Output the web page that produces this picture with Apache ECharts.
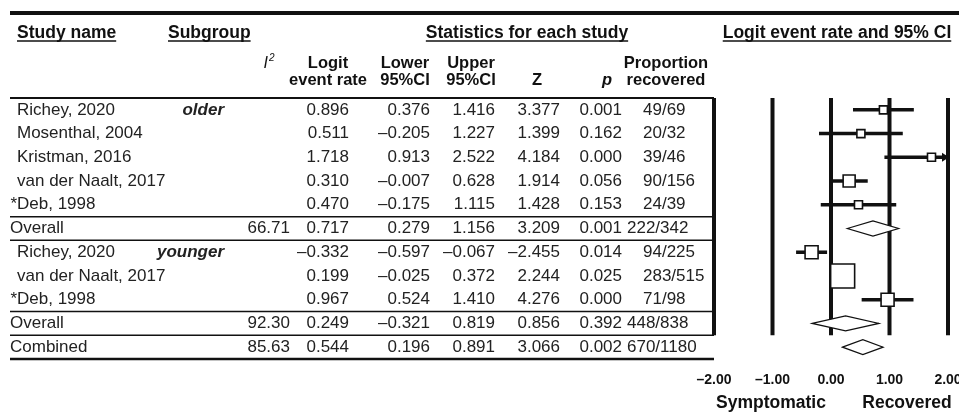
<!DOCTYPE html>
<html><head><meta charset="utf-8">
<script src="https://cdn.jsdelivr.net/npm/echarts@6/dist/echarts.min.js"></script>
<style>html,body{margin:0;padding:0;background:#fff}#c{width:959px;height:412px}</style>
</head><body><div id="c"></div>
<script>
// ---------- data ----------
const studyNames = ['Richey, 2020','Mosenthal, 2004','Kristman, 2016','van der Naalt, 2017','*Deb, 1998','Overall','Richey, 2020','van der Naalt, 2017','*Deb, 1998','Overall','Combined'];
const subgroups = ['older','','','','','','younger','','','',''];
const rowKinds = ['study','study','study','study','study','summary','study','study','study','summary','summary'];
const iSquared = ['','','','','','66.71','','','','92.30','85.63'];
const logitRate = [0.896,0.511,1.718,0.310,0.470,0.717,-0.332,0.199,0.967,0.249,0.544];
const lowerCI = [0.376,-0.205,0.913,-0.007,-0.175,0.279,-0.597,-0.025,0.524,-0.321,0.196];
const upperCI = [1.416,1.227,2.522,0.628,1.115,1.156,-0.067,0.372,1.410,0.819,0.891];
const zValues = [3.377,1.399,4.184,1.914,1.428,3.209,-2.455,2.244,4.276,0.856,3.066];
const pValues = [0.001,0.162,0.000,0.056,0.153,0.001,0.014,0.025,0.000,0.392,0.002];
const proportions = ['49/69','20/32','39/46','90/156','24/39','222/342','94/225','283/515','71/98','448/838','670/1180'];
const axisTicks = [-2,-1,0,1,2];
const axisCaptions = ['Symptomatic','Recovered'];

// ---------- style ----------
const boxPx = [8,8,8,12,8,0,13,24,13,0,0];
const FONT = '"Liberation Sans", Arial, Helvetica, sans-serif';
const INK = '#111';
const BODY = '#222';
const ROW_FONT = '17px ' + FONT;
const HEAD_FONT = 'bold 17.5px ' + FONT;
const HEAD2_FONT = 'bold 16.5px ' + FONT;
const GRID_TOP = 98, GRID_H = 261, TABLE_LEFT = 10, PLOT_LEFT = 714, PLOT_W = 234;
const NROWS = studyNames.length;
const lastSubgroupRow = rowKinds.lastIndexOf('summary') - 1;

const dash = v => (v < 0 ? '\u2013' : '') + Math.abs(v).toFixed(3);
const mctx = document.createElement('canvas').getContext('2d');
function textW(s, font){ mctx.font = font; return mctx.measureText(s).width; }

const chart = echarts.init(document.getElementById('c'), null, {renderer:'canvas'});

// header graphics
const graphics = [];
function addText(x, y, s, font, align, fill){
  graphics.push({type:'text', silent:true, z:10, style:{x, y, text:s, font, fill:fill||INK, align, verticalAlign:'middle'}});
}
function addLine(x1,y1,x2,y2,w){
  graphics.push({type:'line', silent:true, z:10, shape:{x1,y1,x2,y2}, style:{stroke:INK, lineWidth:w}});
}
addLine(TABLE_LEFT, 13, 959, 13, 4);
const head1 = [['Study name',17,'left'],['Subgroup',168,'left'],['Statistics for each study',527,'center'],['Logit event rate and 95% CI',837,'center']];
head1.forEach(([s,x,al])=>{
  addText(x, 33, s, HEAD_FONT, al);
  const w = textW(s, HEAD_FONT);
  const x0 = al==='left' ? x : x - w/2;
  addLine(x0, 41, x0 + w, 41, 1.5);
});
const head2 = [[['Logit','event rate'],328],[['Lower','95%CI'],405],[['Upper','95%CI'],471],[['Proportion','recovered'],666]];
head2.forEach(([ls,x])=>{ addText(x, 63, ls[0], HEAD2_FONT, 'center'); addText(x, 80, ls[1], HEAD2_FONT, 'center'); });
addText(537, 80, 'Z', HEAD2_FONT, 'center');
addText(607, 80, 'p', 'italic ' + HEAD2_FONT, 'center');
addText(268, 64, 'I', 'italic 16px ' + FONT, 'right');
addText(269, 58, '2', 'italic 10px ' + FONT, 'left');
addText(771, 403, axisCaptions[0], HEAD_FONT, 'center');
addText(907, 403, axisCaptions[1], HEAD_FONT, 'center');

const rows = studyNames.map((n,i)=>[0,i]);
const boundaries = [];
for (let b = 0; b <= NROWS; b++){
  const above = rowKinds[b-1], below = rowKinds[b];
  if (b === 0 || b === NROWS || above === 'summary' || below === 'summary') boundaries.push([0, b - 0.5]);
}

const option = {
  animation:false,
  backgroundColor:'#fff',
  grid:[
    {left:TABLE_LEFT, top:GRID_TOP, width:PLOT_LEFT - TABLE_LEFT, height:GRID_H, containLabel:false, outerBoundsMode:'none'},
    {left:PLOT_LEFT, top:GRID_TOP, width:PLOT_W, height:GRID_H, containLabel:false, outerBoundsMode:'none'}
  ],
  xAxis:[
    {gridIndex:0, type:'value', min:0, max:1, show:false},
    {gridIndex:1, type:'value', min:-2, max:2, interval:1,
      axisLine:{show:false}, axisTick:{show:false}, splitLine:{show:false},
      axisLabel:{show:true, margin:14, color:INK, fontSize:14, fontWeight:'bold', fontFamily:FONT, showMinLabel:true, showMaxLabel:true, hideOverlap:false,
        formatter:v=>(v<0?'\u2013':'')+Math.abs(v).toFixed(2)}}
  ],
  yAxis:[
    {gridIndex:0, type:'value', min:-0.5, max:NROWS-0.5, inverse:true, show:false},
    {gridIndex:1, type:'value', min:-0.5, max:NROWS-0.5, inverse:true, show:false}
  ],
  graphic: graphics,
  series:[
    { // table text
      type:'custom', xAxisIndex:0, yAxisIndex:0, clip:false, silent:true, data:rows,
      renderItem:(params, api)=>{
        const i = api.value(1);
        const y = api.coord([0,i])[1];
        const kids = [];
        const t = (x,s,al,font)=>kids.push({type:'text', style:{x, y, text:s, font:font||ROW_FONT, fill:BODY, align:al, verticalAlign:'middle'}});
        const name = studyNames[i];
        let nx = rowKinds[i]==='summary' ? TABLE_LEFT : 17;
        if (name.startsWith('*')) nx = 17 - textW('*', ROW_FONT);
        t(nx, name, 'left');
        if (subgroups[i]) t(224, subgroups[i], 'right', 'italic bold 17px ' + FONT);
        if (iSquared[i]) t(290, iSquared[i], 'right');
        t(349, dash(logitRate[i]), 'right');
        t(430, dash(lowerCI[i]), 'right');
        t(495, dash(upperCI[i]), 'right');
        t(560, dash(zValues[i]), 'right');
        t(622, dash(pValues[i]), 'right');
        t(rowKinds[i]==='summary' ? 627 : 643, proportions[i], 'left');
        return {type:'group', children:kids};
      }
    },
    { // table rules
      type:'custom', xAxisIndex:0, yAxisIndex:0, clip:false, silent:true, data:boundaries,
      renderItem:(params, api)=>{
        const b = api.value(1);
        const p1 = api.coord([0,b]), p2 = api.coord([1,b]);
        const w = (b < 0) ? 2 : (b > NROWS - 1) ? 2.5 : 1.5;
        return {type:'line', shape:{x1:p1[0], y1:p1[1], x2:p2[0], y2:p2[1]}, style:{stroke:INK, lineWidth:w}};
      }
    },
    { // vertical reference lines
      type:'custom', xAxisIndex:1, yAxisIndex:1, clip:false, silent:true, data:axisTicks.map(v=>[v]),
      renderItem:(params, api)=>{
        const v = api.value(0);
        const a = api.coord([v,-0.5]), b = api.coord([v,lastSubgroupRow + 0.5]);
        return {type:'line', shape:{x1:a[0], y1:a[1], x2:b[0], y2:b[1]}, style:{stroke:INK, lineWidth:4}};
      }
    },
    { // forest marks
      type:'custom', xAxisIndex:1, yAxisIndex:1, clip:false, silent:true, z:5,
      data: studyNames.map((n,i)=>[i, logitRate[i], lowerCI[i], upperCI[i]]),
      renderItem:(params, api)=>{
        const i = api.value(0), est = api.value(1), lo = api.value(2), hi = api.value(3);
        const pe = api.coord([est,i]);
        const pl = api.coord([Math.max(lo,-2), i]);
        const ph = api.coord([Math.min(hi,2), i]);
        const y = pe[1];
        if (rowKinds[i]==='summary'){
          const h = 7.5;
          return {type:'polygon', shape:{points:[[pl[0],y],[pe[0],y-h],[ph[0],y],[pe[0],y+h]]}, style:{fill:'#fff', stroke:INK, lineWidth:1.2}};
        }
        const kids = [{type:'line', shape:{x1:pl[0], y1:y, x2:ph[0], y2:y}, style:{stroke:INK, lineWidth:3.5}}];
        if (hi > 2) kids.push({type:'polygon', shape:{points:[[ph[0]+1,y],[ph[0]-6,y-4.5],[ph[0]-6,y+4.5]]}, style:{fill:INK}});
        const s = boxPx[i];
        kids.push({type:'rect', shape:{x:pe[0]-s/2, y:y-s/2, width:s, height:s}, style:{fill:'#fff', stroke:INK, lineWidth:1.6}});
        return {type:'group', children:kids};
      }
    }
  ]
};
chart.setOption(option);
</script></body></html>
